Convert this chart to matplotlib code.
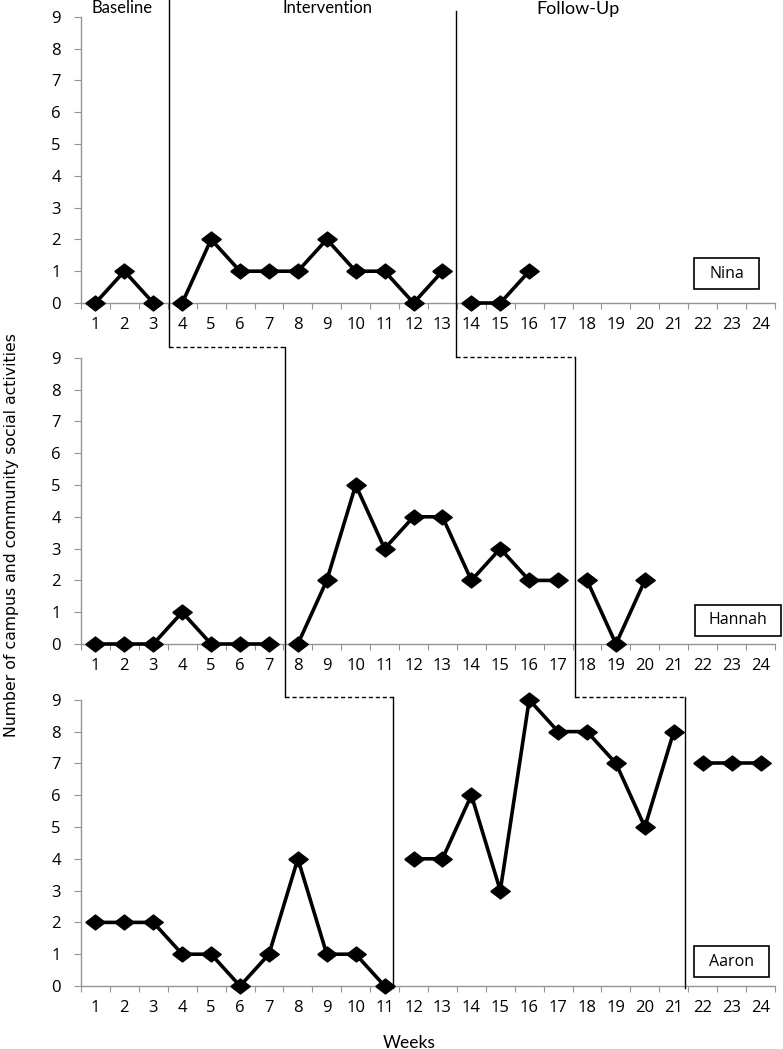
import matplotlib
matplotlib.use("Agg")
import matplotlib.pyplot as plt
from matplotlib.patches import Rectangle

weeks = list(range(1, 25))
week_labels = [str(w) for w in weeks]
participants = ["Nina", "Hannah", "Aaron"]

nina_baseline_weeks = [1, 2, 3]
nina_baseline = [0, 1, 0]
nina_interv_weeks = list(range(4, 14))
nina_interv = [0, 2, 1, 1, 1, 2, 1, 1, 0, 1]
nina_follow_weeks = [14, 15, 16]
nina_follow = [0, 0, 1]

hannah_baseline_weeks = list(range(1, 8))
hannah_baseline = [0, 0, 0, 1, 0, 0, 0]
hannah_interv_weeks = list(range(8, 18))
hannah_interv = [0, 2, 5, 3, 4, 4, 2, 3, 2, 2]
hannah_follow_weeks = [18, 19, 20]
hannah_follow = [2, 0, 2]

aaron_baseline_weeks = list(range(1, 12))
aaron_baseline = [2, 2, 2, 1, 1, 0, 1, 4, 1, 1, 0]
aaron_interv_weeks = list(range(12, 22))
aaron_interv = [4, 4, 6, 3, 9, 8, 8, 7, 5, 8]
aaron_follow_weeks = [22, 23, 24]
aaron_follow = [7, 7, 7]

series = [
    [(nina_baseline_weeks, nina_baseline), (nina_interv_weeks, nina_interv), (nina_follow_weeks, nina_follow)],
    [(hannah_baseline_weeks, hannah_baseline), (hannah_interv_weeks, hannah_interv), (hannah_follow_weeks, hannah_follow)],
    [(aaron_baseline_weeks, aaron_baseline), (aaron_interv_weeks, aaron_interv), (aaron_follow_weeks, aaron_follow)],
]

W, H = 783, 1049
fig = plt.figure(figsize=(W / 100, H / 100), dpi=100)
fig.patch.set_facecolor("white")

TICKFONT = "Open Sans"
HEADFONT = "Lato"
gray = "#959595"
diamond = [(-1.3, 0), (0, 1), (1.3, 0), (0, -1), (-1.3, 0)]

left_px, right_px = 81.0, 775
zero_px = [303, 644, 986]
unit_px = 31.8
axes = []
for i in range(3):
    bottom = 1 - zero_px[i] / H
    height = 9 * unit_px / H
    ax = fig.add_axes([left_px / W, bottom, (right_px - left_px) / W, height])
    axes.append(ax)
    for (xw, yv) in series[i]:
        ax.plot(xw, yv, color="black", lw=2.6, marker=diamond, markersize=14,
                markerfacecolor="black", markeredgecolor="black", clip_on=False, zorder=5)
    ax.set_xlim(0.5, 24.5)
    ax.set_ylim(0, 9)
    ax.set_yticks(range(0, 10))
    ax.set_yticklabels([str(v) for v in range(0, 10)], fontfamily=TICKFONT, fontsize=12)
    ax.set_xticks([w + 0.5 for w in range(0, 25)])
    ax.set_xticklabels([])
    ax.set_xticks(weeks, minor=True)
    ax.set_xticklabels(week_labels, minor=True, fontfamily=TICKFONT, fontsize=12)
    ax.tick_params(axis="x", which="major", length=4, color=gray, direction="out")
    ax.tick_params(axis="x", which="minor", length=0, pad=10)
    ax.tick_params(axis="y", length=5, color=gray, pad=9.5)
    for s in ["top", "right"]:
        ax.spines[s].set_visible(False)
    for s in ["left", "bottom"]:
        ax.spines[s].set_color(gray)
        ax.spines[s].set_linewidth(1.0)
    ax.set_facecolor("none")


def py(i, pix):
    """convert figure pixel row to data y for panel i"""
    return (zero_px[i] - pix) / unit_px

# phase change lines (x in week units)
ph1 = [3.53, 7.54, 11.28]
ph2 = [13.46, 17.6, 21.38]
lk = dict(color="black", lw=1.0, clip_on=False, zorder=3)
dk = dict(color="black", lw=1.0, ls=(0, (3, 2)), clip_on=False, zorder=3)

# first phase change
axes[0].plot([ph1[0], ph1[0]], [py(0, 0), py(0, 347)], **lk)
axes[0].plot([ph1[0], ph1[1]], [py(0, 347), py(0, 347)], **dk)
axes[1].plot([ph1[1], ph1[1]], [py(1, 347), py(1, 697)], **lk)
axes[1].plot([ph1[1], ph1[2]], [py(1, 697), py(1, 697)], **dk)
axes[2].plot([ph1[2], ph1[2]], [py(2, 697), py(2, 988)], **lk)
# second phase change
axes[0].plot([ph2[0], ph2[0]], [py(0, 11), py(0, 357)], **lk)
axes[0].plot([ph2[0], ph2[1]], [py(0, 357), py(0, 357)], **dk)
axes[1].plot([ph2[1], ph2[1]], [py(1, 357), py(1, 697)], **lk)
axes[1].plot([ph2[1], ph2[2]], [py(1, 697), py(1, 697)], **dk)
axes[2].plot([ph2[2], ph2[2]], [py(2, 697), py(2, 988)], **lk)

# name boxes
boxes = [(694, 258, 759, 289), (695, 605, 781, 636), (694, 946, 769, 977)]
for name, (x0, y0, x1, y1) in zip(participants, boxes):
    fig.patches.append(Rectangle((x0 / W, 1 - y1 / H), (x1 - x0) / W, (y1 - y0) / H,
                                 transform=fig.transFigure, fill=True, facecolor="white",
                                 edgecolor="black", lw=1.2, zorder=10))
    fig.text((x0 + x1) / 2 / W, 1 - (y0 + y1) / 2 / H, name, ha="center", va="center",
             fontfamily=TICKFONT, fontsize=11.5, zorder=11)

# phase headers
fig.text(122 / W, 1 - 8 / H, "Baseline", ha="center", va="center", fontfamily=HEADFONT, fontsize=12)
fig.text(328 / W, 1 - 8 / H, "Intervention", ha="center", va="center", fontfamily=HEADFONT, fontsize=12)
fig.text(578 / W, 1 - 9 / H, "Follow-Up", ha="center", va="center", fontfamily=HEADFONT, fontsize=13)

fig.text(12 / W, 1 - 535 / H, "Number of campus and community social activities",
         rotation=90, ha="center", va="center", fontfamily="DejaVu Sans", fontsize=11.3)
fig.text(409 / W, 1 - 1043 / H, "Weeks", ha="center", va="center", fontfamily=HEADFONT, fontsize=12.5)

fig.savefig("out.png", dpi=100, facecolor="white")
